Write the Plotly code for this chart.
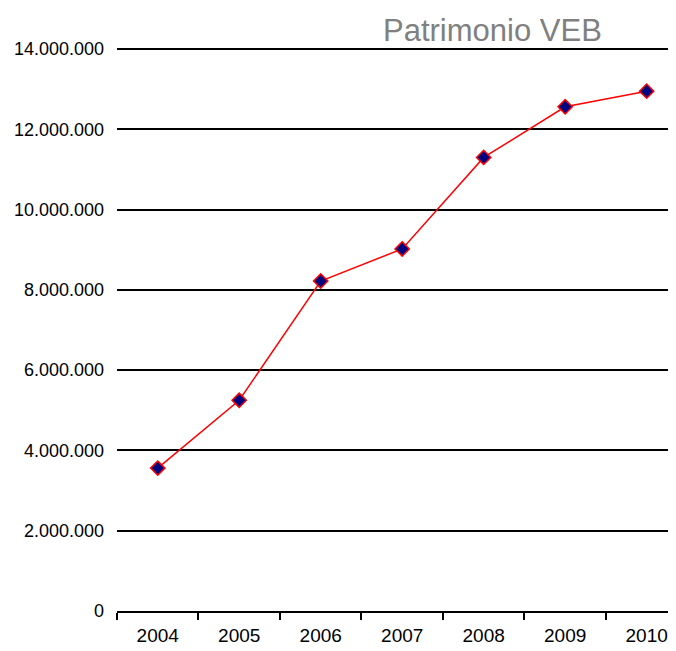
import plotly.graph_objects as go

years = ["2004", "2005", "2006", "2007", "2008", "2009", "2010"]
patrimonio = [3560000, 5250000, 8220000, 9020000, 11300000, 12560000, 12950000]
y_ticks = [0, 2000000, 4000000, 6000000, 8000000, 10000000, 12000000, 14000000]

# page body has an 8px margin, so the figure starts at (8, 8)
W, H = 668, 643
L, T, B, R = 109, 37, 40, 0
pw, ph = W - L - R, H - T - B

fig = go.Figure()
fig.add_trace(go.Scatter(
    x=years, y=patrimonio, mode="lines+markers",
    line=dict(color="#ff0000", width=1.5),
    marker=dict(symbol="diamond", size=11, color="#000080",
                line=dict(color="#ff0000", width=1.5)),
))

fig.update_layout(
    width=W, height=H,
    margin=dict(l=L, r=R, t=T, b=B),
    paper_bgcolor="white", plot_bgcolor="white",
    separators=",.",
    showlegend=False,
    font=dict(family="Liberation Sans, Arial, sans-serif", color="black"),
    annotations=[dict(text="Patrimonio VEB", xref="paper", yref="paper",
                      x=(492 - 8 - L) / pw, y=1 + (T - 22) / ph,
                      xanchor="center", yanchor="middle", showarrow=False,
                      font=dict(size=31, color="#808080"))],
)
fig.update_xaxes(
    type="category", range=[-0.5, 6.36], tickson="boundaries",
    ticks="outside", ticklen=7, tickcolor="black", tickwidth=1.5,
    showline=True, linecolor="black", linewidth=1.5,
    showgrid=False, tickfont=dict(size=19, color="black"),
    ticklabelstandoff=6,
)
fig.update_yaxes(
    range=[0, 14100000], tickvals=y_ticks, tickformat=",d",
    showgrid=True, gridcolor="black", gridwidth=1.5,
    zeroline=False, showline=False, ticks="",
    ticklabelstandoff=12,
    tickfont=dict(size=18, color="black"),
)
fig.write_html("out.html")
